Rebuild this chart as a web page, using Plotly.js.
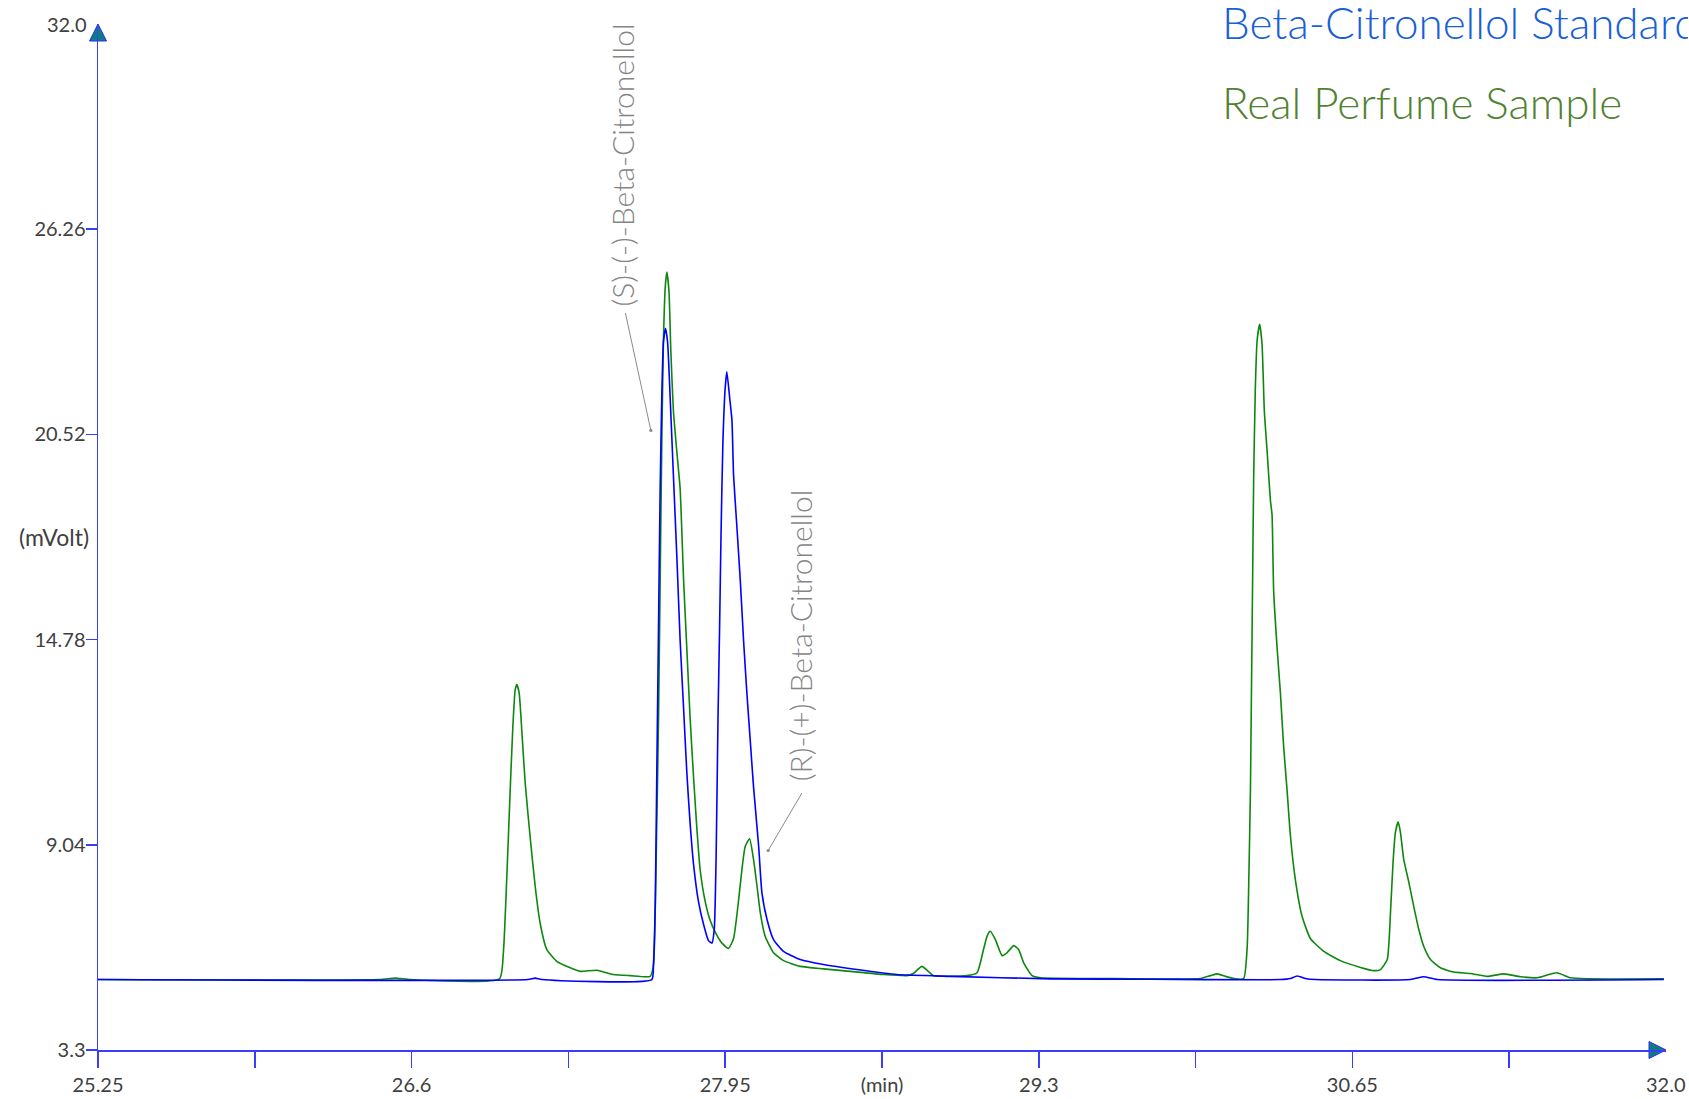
<!DOCTYPE html>
<html>
<head>
<meta charset="utf-8">
<script src="https://cdn.plot.ly/plotly-3.0.1.min.js"></script>
<style>
  html, body { margin: 0; padding: 0; background: #ffffff; overflow: hidden; }
  #chart { width: 1689px; height: 1099px; }
</style>
</head>
<body>
<div id="chart"></div>
<script>
// ---- Data (retention time in min, signal in mVolt) ----
const perfumeTime = [25.25,26.464,26.529,26.594,26.978,26.995,27.010,27.024,27.036,27.046,27.053,27.063,27.075,27.089,27.110,27.132,27.153,27.182,27.225,27.283,27.326,27.398,27.469,27.541,27.627,27.641,27.653,27.663,27.670,27.677,27.684,27.692,27.699,27.708,27.716,27.727,27.742,27.756,27.771,27.785,27.799,27.814,27.828,27.842,27.864,27.885,27.911,27.936,27.964,27.986,28.007,28.022,28.036,28.055,28.072,28.087,28.101,28.122,28.158,28.201,28.273,28.373,28.488,28.632,28.733,28.760,28.797,28.824,28.847,28.991,29.034,29.062,29.077,29.091,29.113,29.142,29.163,29.192,29.213,29.235,29.271,29.307,29.565,29.996,30.039,30.069,30.103,30.146,30.182,30.197,30.204,30.211,30.215,30.221,30.225,30.232,30.240,30.251,30.261,30.271,30.283,30.297,30.304,30.311,30.326,30.340,30.354,30.369,30.383,30.405,30.433,30.469,30.527,30.598,30.685,30.742,30.771,30.800,30.814,30.825,30.835,30.847,30.857,30.871,30.893,30.914,30.936,30.957,30.986,31.029,31.086,31.158,31.230,31.302,31.374,31.446,31.529,31.589,31.661,31.991];
const perfumeSignal = [5.27,5.27,5.31,5.27,5.29,6.02,8.16,10.50,12.36,13.38,13.52,13.29,12.17,10.77,9.28,7.88,6.86,6.11,5.78,5.60,5.50,5.53,5.41,5.38,5.36,5.66,8.74,12.58,16.43,20.28,23.10,24.65,25.06,24.52,22.85,21.18,20.02,19.00,16.43,14.50,12.58,10.91,9.50,8.35,7.45,6.93,6.55,6.29,6.14,6.42,7.45,8.35,8.99,9.21,8.63,7.88,7.14,6.48,6.02,5.80,5.64,5.57,5.50,5.41,5.38,5.44,5.64,5.50,5.38,5.38,5.46,6.11,6.48,6.62,6.39,5.94,6.02,6.22,6.11,5.74,5.38,5.32,5.30,5.30,5.38,5.43,5.36,5.29,5.30,6.17,8.04,10.55,13.05,16.80,19.29,21.78,23.16,23.60,23.04,21.16,20.04,18.67,18.28,16.15,14.53,13.29,11.79,10.55,9.30,8.04,7.05,6.42,6.06,5.80,5.61,5.52,5.55,5.83,7.15,8.55,9.38,9.68,9.38,8.63,7.99,7.32,6.67,6.20,5.83,5.60,5.48,5.44,5.36,5.43,5.35,5.32,5.46,5.32,5.29,5.29];

const standardTime = [25.25,27.10,27.132,27.16,27.634,27.641,27.649,27.656,27.663,27.670,27.677,27.684,27.693,27.702,27.713,27.727,27.742,27.756,27.771,27.785,27.799,27.814,27.835,27.857,27.878,27.893,27.903,27.911,27.919,27.926,27.932,27.940,27.950,27.957,27.969,27.979,27.986,28.000,28.015,28.029,28.044,28.058,28.072,28.094,28.108,28.130,28.158,28.201,28.273,28.373,28.517,28.689,28.919,29.350,29.780,30.340,30.383,30.412,30.448,30.491,30.900,30.957,31.016,31.991];
const standardSignal = [5.27,5.27,5.31,5.27,5.27,5.66,7.45,11.30,15.15,19.01,21.56,23.10,23.49,23.10,21.56,19.38,17.08,14.76,12.84,11.04,9.64,8.48,7.45,6.81,6.36,6.29,6.68,8.74,12.58,15.15,17.72,20.28,21.82,22.27,21.56,20.92,19.38,17.97,16.43,14.76,13.22,11.94,10.66,9.00,7.70,6.95,6.39,6.06,5.83,5.69,5.55,5.41,5.36,5.29,5.28,5.27,5.30,5.37,5.30,5.27,5.27,5.35,5.27,5.27];

const xTickVals = [25.25,25.925,26.6,27.275,27.95,28.625,29.3,29.975,30.65,31.325];
const xTickText = ['25.25','','26.6','','27.95','(min)','29.3','','30.65',''];
const yTickVals = [3.3,9.04,14.78,20.52,26.26];
const yTickText = ['3.3','9.04','14.78','20.52','26.26'];
const xMax = 32.0, yMax = 32.0, xMin = 25.25, yMin = 3.3;
const seriesNames = ['Beta-Citronellol Standard','Real Perfume Sample'];
const peakLabels = ['(S)-(-)-Beta-Citronellol','(R)-(+)-Beta-Citronellol'];

// ---- Styles ----
const FONT = 'Lato, "Open Sans", "DejaVu Sans", sans-serif';
const AXIS_BLUE = '#3c3cff';
const TICK_FONT = {family: FONT, size: 20, color: '#404040'};

const traces = [
  {x: perfumeTime, y: perfumeSignal, type: 'scatter', mode: 'lines', name: seriesNames[1],
   line: {color: '#0d870d', width: 1.6, shape: 'spline', smoothing: 0.5}, hoverinfo: 'skip'},
  {x: standardTime, y: standardSignal, type: 'scatter', mode: 'lines', name: seriesNames[0],
   line: {color: '#0000ff', width: 1.6, shape: 'spline', smoothing: 0.5}, hoverinfo: 'skip'},
  {x: [xMin, xMax], y: [yMax, yMin], type: 'scatter', mode: 'markers', cliponaxis: false,
   marker: {symbol: ['arrow-up','arrow-right'], size: 17, color: '#0e7d7d',
            line: {color: '#2a2aff', width: 1}}, hoverinfo: 'skip'}
];

const grayLbl = '#858585';
const layout = {
  width: 1689, height: 1099,
  margin: {l: 98, r: 23, t: 24, b: 49, pad: 0},
  paper_bgcolor: '#ffffff', plot_bgcolor: '#ffffff',
  showlegend: false,
  xaxis: {
    range: [xMin, xMax], tickmode: 'array', tickvals: xTickVals, ticktext: xTickText,
    ticks: 'outside', ticklen: 16, tickwidth: 1.5, tickcolor: AXIS_BLUE,
    showline: true, linecolor: AXIS_BLUE, linewidth: 1.5,
    showgrid: false, zeroline: false, tickfont: TICK_FONT, ticklabelstandoff: 0
  },
  yaxis: {
    range: [yMin, yMax], tickmode: 'array', tickvals: yTickVals, ticktext: yTickText,
    ticks: 'outside', ticklen: 11, tickwidth: 1.5, tickcolor: AXIS_BLUE,
    showline: true, linecolor: AXIS_BLUE, linewidth: 1.5,
    showgrid: false, zeroline: false, tickfont: TICK_FONT, ticklabelstandoff: -4
  },
  annotations: [
    {xref: 'paper', x: 0, yref: 'y', y: yMax, text: '32.0', showarrow: false,
     xanchor: 'right', yanchor: 'middle', xshift: -9, font: TICK_FONT},
    {xref: 'paper', x: 0, yref: 'y', y: 17.65, text: '(mVolt)', showarrow: false,
     xanchor: 'right', yanchor: 'middle', xshift: -7, font: {family: FONT, size: 23, color: '#404040'}},
    {xref: 'x', x: xMax, yref: 'paper', y: 0, text: '32.0', showarrow: false,
     xanchor: 'center', yanchor: 'top', yshift: -20, font: TICK_FONT},
    {xref: 'x', x: 30.079, yref: 'paper', y: 1.002, text: seriesNames[0], showarrow: false,
     xanchor: 'left', yanchor: 'middle', width: 466, align: 'left',
     font: {family: FONT, size: 44, color: '#195fd7', weight: 300}},
    {xref: 'x', x: 30.079, yref: 'y', y: 29.81, text: seriesNames[1], showarrow: false,
     xanchor: 'left', yanchor: 'middle', font: {family: FONT, size: 44, color: '#508232', weight: 300}},
    {xref: 'x', x: 27.504, yref: 'y', y: 28.06, text: peakLabels[0], showarrow: false,
     textangle: -90, xanchor: 'center', yanchor: 'middle', font: {family: FONT, size: 30, color: grayLbl, weight: 300}},
    {xref: 'x', x: 28.273, yref: 'y', y: 14.91, text: peakLabels[1], showarrow: false,
     textangle: -90, xanchor: 'center', yanchor: 'middle', font: {family: FONT, size: 30, color: grayLbl, weight: 300}},
    {xref: 'x', x: 27.630, yref: 'y', y: 20.63, text: '', showarrow: true,
     axref: 'x', ayref: 'y', ax: 27.519, ay: 23.96, arrowhead: 6, arrowsize: 0.8, arrowwidth: 1, arrowcolor: '#8a8a8a', standoff: 0},
    {xref: 'x', x: 28.135, yref: 'y', y: 8.88, text: '', showarrow: true,
     axref: 'x', ayref: 'y', ax: 28.284, ay: 10.53, arrowhead: 6, arrowsize: 0.8, arrowwidth: 1, arrowcolor: '#8a8a8a', standoff: 0}
  ]
};

Plotly.newPlot('chart', traces, layout, {staticPlot: true, displayModeBar: false});
</script>
</body>
</html>
